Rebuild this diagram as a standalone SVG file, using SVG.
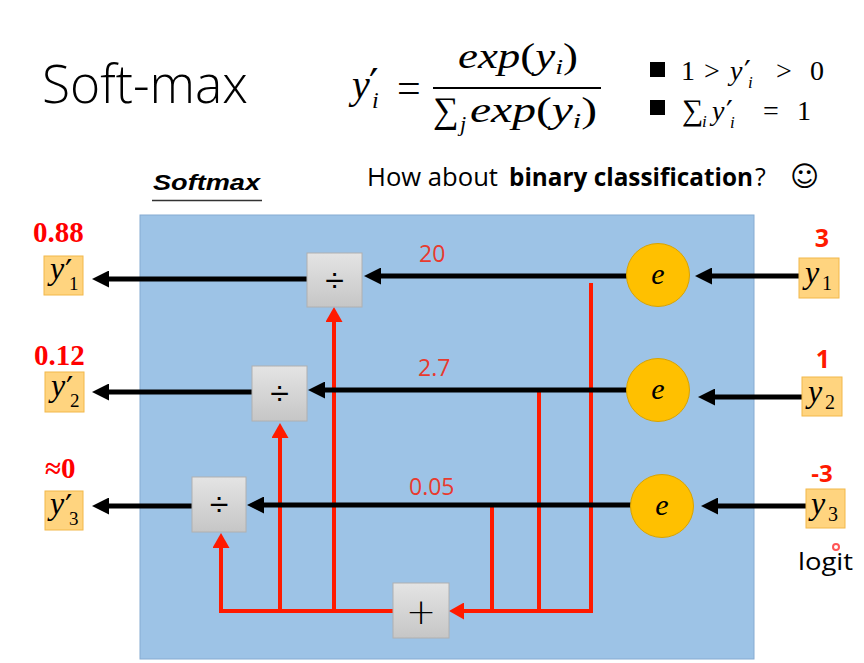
<svg xmlns="http://www.w3.org/2000/svg" width="864" height="663" viewBox="0 0 864 663">
<defs>
<style>
.m{font-family:"Liberation Serif","DejaVu Serif",serif;fill:#000}
.it{font-style:italic}
.up{font-style:normal}
.pr{font-family:"DejaVu Sans",sans-serif;font-style:normal}
.op{font-family:"Liberation Sans","DejaVu Sans",sans-serif;fill:#000;text-anchor:middle}
.redb{font-family:"Liberation Serif",serif;font-weight:bold;fill:#ff0000}
.reds{font-family:"Open Sans","Liberation Sans",sans-serif;font-weight:bold;fill:#ff1a00;text-anchor:middle}
.val{font-family:"Open Sans","Liberation Sans",sans-serif;fill:#e83a2e;font-size:23px}
.blk{stroke:#000;stroke-width:5;fill:none}
.red{stroke:#ff1a00;stroke-width:4;fill:none}
.gbox{fill:url(#gg);stroke:#b0b0b0;stroke-width:1}
.ybox{fill:#ffd47f;stroke:#f2b84b;stroke-width:1}
.ec{fill:#ffc000;stroke:#d9a300;stroke-width:1}
</style>
<linearGradient id="gg" x1="0" y1="0" x2="0" y2="1">
<stop offset="0" stop-color="#e4e4e4"/>
<stop offset="1" stop-color="#c6c6c6"/>
</linearGradient>
<marker id="ab" markerUnits="userSpaceOnUse" markerWidth="17" markerHeight="17" refX="7" refY="8.5" orient="auto">
<path d="M0,0 L17,8.5 L0,17 z" fill="#000"/>
</marker>
<marker id="ar" markerUnits="userSpaceOnUse" markerWidth="15" markerHeight="17" refX="5" refY="8.5" orient="auto">
<path d="M0,0 L15,8.5 L0,17 z" fill="#ff1a00"/>
</marker>
</defs>
<rect width="864" height="663" fill="#fff"/>

<text x="42" y="103" font-family="Open Sans,Liberation Sans,sans-serif" font-weight="300" font-size="54" textLength="206" lengthAdjust="spacingAndGlyphs" fill="#000">Soft-max</text>

<g id="formula">
<text class="m it" x="352" y="98" font-size="40">y<tspan class="pr" x="369" y="99" font-size="42">′</tspan><tspan x="372" y="108" font-size="24">i</tspan><tspan class="up" x="397" y="102" font-size="42">=</tspan></text>
<text class="m it" x="458" y="68" font-size="35" textLength="120" lengthAdjust="spacingAndGlyphs">exp<tspan class="up">(</tspan>y<tspan dy="6" font-size="22">i</tspan><tspan dy="-6" class="up">)</tspan></text>
<line x1="433" y1="88" x2="601" y2="88" stroke="#000" stroke-width="2"/>
<text class="m" x="433" y="122" font-size="36">∑<tspan class="it" x="460" y="131" font-size="22">j</tspan></text>
<text class="m it" x="470" y="122" font-size="35" textLength="127" lengthAdjust="spacingAndGlyphs">exp<tspan class="up">(</tspan>y<tspan dy="6" font-size="22">i</tspan><tspan dy="-6" class="up">)</tspan></text>
</g>

<g id="bullets">
<rect x="650" y="62" width="15" height="15" fill="#000"/>
<rect x="650" y="100" width="15" height="15" fill="#000"/>
<text class="m" x="681" y="80" font-size="28">1<tspan x="704">&gt;</tspan><tspan class="it" x="730">y</tspan><tspan class="pr" x="744" y="82" font-size="30">′</tspan><tspan class="it" x="748" y="88" font-size="17">i</tspan><tspan x="776" y="80">&gt;</tspan><tspan x="810">0</tspan></text>
<text class="m" x="682" y="120" font-size="30">∑<tspan class="it" x="702" y="127" font-size="17">i</tspan><tspan class="it" x="712" y="120" font-size="28">y</tspan><tspan class="pr" x="726" y="122" font-size="30">′</tspan><tspan class="it" x="730" y="128" font-size="17">i</tspan><tspan x="763" y="120" font-size="28">=</tspan><tspan x="797" font-size="28">1</tspan></text>
</g>

<g id="question" font-family="Open Sans,Liberation Sans,sans-serif" font-size="25" fill="#000">
<text x="367" y="186" textLength="131" lengthAdjust="spacingAndGlyphs">How about</text>
<text x="509" y="186" font-weight="bold" textLength="244" lengthAdjust="spacingAndGlyphs">binary classification</text>
<text x="755" y="186">?</text>
<text x="790" y="186" font-family="DejaVu Sans,sans-serif" font-size="28">☺</text>
</g>

<g id="softmax-label">
<text x="153" y="190" font-family="Liberation Sans,Arial,sans-serif" font-size="22" font-weight="bold" font-style="italic" textLength="107" lengthAdjust="spacingAndGlyphs" fill="#000">Softmax</text>
<line x1="152" y1="200.5" x2="262" y2="200.5" stroke="#333" stroke-width="1.5"/>
</g>

<g id="softmax-box">
<rect x="140" y="215" width="614" height="444" fill="#9dc3e6" stroke="#86abd2" stroke-width="1"/>
</g>

<g id="connectors">
<polyline class="red" points="591,283 591,611 459,611" marker-end="url(#ar)"/>
<polyline class="red" points="539,390 539,611"/>
<polyline class="red" points="492,505 492,611"/>
<polyline class="red" points="393,611 221,611 221,543" marker-end="url(#ar)"/>
<polyline class="red" points="280,611 280,433" marker-end="url(#ar)"/>
<polyline class="red" points="334,611 334,317" marker-end="url(#ar)"/>
<line class="blk" x1="627" y1="276" x2="374" y2="276" marker-end="url(#ab)"/>
<line class="blk" x1="627" y1="390" x2="318" y2="390" marker-end="url(#ab)"/>
<line class="blk" x1="631" y1="505" x2="257" y2="505" marker-end="url(#ab)"/>
<line class="blk" x1="307" y1="279" x2="102" y2="279" marker-end="url(#ab)"/>
<line class="blk" x1="252" y1="392" x2="102" y2="392" marker-end="url(#ab)"/>
<line class="blk" x1="192" y1="506" x2="102" y2="506" marker-end="url(#ab)"/>
<line class="blk" x1="799" y1="276" x2="705" y2="276" marker-end="url(#ab)"/>
<line class="blk" x1="802" y1="397" x2="708" y2="397" marker-end="url(#ab)"/>
<line class="blk" x1="806" y1="506" x2="711" y2="506" marker-end="url(#ab)"/>
</g>

<g id="div1"><rect class="gbox" x="307" y="253" width="55" height="54"/><text class="op" x="334.5" y="292" font-size="34">÷</text></g>
<g id="div2"><rect class="gbox" x="252" y="366" width="55" height="55"/><text class="op" x="279.5" y="405" font-size="34">÷</text></g>
<g id="div3"><rect class="gbox" x="192" y="477" width="54" height="55"/><text class="op" x="219" y="516" font-size="34">÷</text></g>
<g id="plus"><rect class="gbox" x="393" y="583" width="56" height="55"/><text x="421" y="624" font-family="DejaVu Sans,sans-serif" font-weight="200" font-size="36" text-anchor="middle" fill="#000">+</text></g>

<g id="e1"><circle class="ec" cx="658" cy="275" r="31.5"/><text class="m it" x="658" y="284" font-size="30" text-anchor="middle">e</text></g>
<g id="e2"><circle class="ec" cx="658" cy="390" r="31.5"/><text class="m it" x="658" y="399" font-size="30" text-anchor="middle">e</text></g>
<g id="e3"><circle class="ec" cx="662" cy="506" r="31.5"/><text class="m it" x="662" y="515" font-size="30" text-anchor="middle">e</text></g>

<g id="in1"><rect class="ybox" x="799" y="258" width="40" height="40"/><text class="m it" x="805" y="283" font-size="32">y<tspan class="up" x="822" y="290" font-size="20">1</tspan></text></g>
<g id="in2"><rect class="ybox" x="802" y="377" width="40" height="39"/><text class="m it" x="808" y="402" font-size="32">y<tspan class="up" x="825" y="409" font-size="20">2</tspan></text></g>
<g id="in3"><rect class="ybox" x="806" y="489" width="39" height="39"/><text class="m it" x="811" y="514" font-size="32">y<tspan class="up" x="828" y="521" font-size="20">3</tspan></text></g>

<g id="out1"><rect class="ybox" x="44" y="256" width="39" height="39"/><text class="m it" x="50" y="279" font-size="32">y<tspan class="pr" x="65" y="282">′</tspan><tspan class="up" x="69" y="290" font-size="19">1</tspan></text></g>
<g id="out2"><rect class="ybox" x="45" y="372" width="39" height="40"/><text class="m it" x="51" y="396" font-size="32">y<tspan class="pr" x="66" y="399">′</tspan><tspan class="up" x="70" y="407" font-size="19">2</tspan></text></g>
<g id="out3"><rect class="ybox" x="45" y="491" width="38" height="39"/><text class="m it" x="50" y="514" font-size="32">y<tspan class="pr" x="65" y="517">′</tspan><tspan class="up" x="69" y="525" font-size="19">3</tspan></text></g>

<g id="labels">
<text class="redb" x="33" y="242" font-size="29">0.88</text>
<text class="redb" x="34" y="365" font-size="29">0.12</text>
<text class="redb" x="45" y="478" font-size="29">≈0</text>
<text class="reds" x="822" y="247" font-size="25">3</text>
<text class="reds" x="823" y="368" font-size="25">1</text>
<text class="reds" x="822" y="482" font-size="24">-3</text>
<text class="val" x="419" y="262">20</text>
<text class="val" x="418" y="376">2.7</text>
<text class="val" x="409" y="495">0.05</text>
<text x="798" y="570" font-family="Open Sans,Liberation Sans,sans-serif" font-size="24" textLength="55" lengthAdjust="spacingAndGlyphs" fill="#000">logit</text>
<circle cx="836" cy="547" r="3" fill="none" stroke="#ff2a2a" stroke-width="2" opacity="0.8"/>
</g>
</svg>
